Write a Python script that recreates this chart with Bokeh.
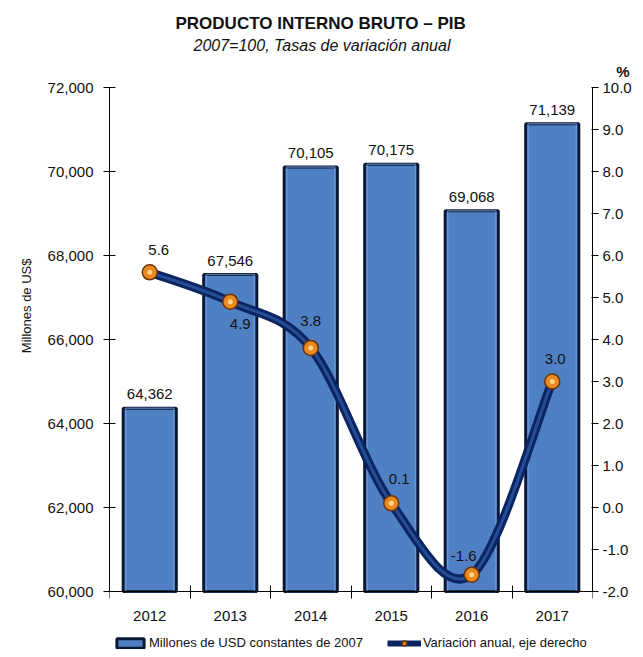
from bokeh.plotting import figure
from bokeh.models import (Range1d, LinearAxis, FixedTicker, NumeralTickFormatter,
                          Title, Legend, LegendItem, ColumnDataSource)
from bokeh.core.properties import value
from bokeh.embed import file_html
from bokeh.resources import INLINE
import numpy as np

# ---- data ----
years = ["2012", "2013", "2014", "2015", "2016", "2017"]
pib_millones = [64362, 67546, 70105, 70175, 69068, 71139]
variacion = [5.6, 4.9, 3.8, 0.1, -1.6, 3.0]
left_ticks = [60000, 62000, 64000, 66000, 68000, 70000, 72000]
right_ticks = [-2, -1, 0, 1, 2, 3, 4, 5, 6, 7, 8, 9, 10]

title_text = "PRODUCTO INTERNO BRUTO \u2013 PIB"
subtitle_text = "2007=100, Tasas de variaci\u00f3n anual"
y_label = "Millones de US$"
bar_legend = "Millones de USD constantes de 2007"
line_legend = "Variaci\u00f3n anual, eje derecho"

# label placement for the line values (screen px offsets)
var_dx = [9, 10, 0, 8, -8, 3]
var_dy = [-22, 22, -27, -24, -19, -23]

FONT = "Liberation Sans"
TXT = "#111111"

# layout geometry: axis span 504 px, extra 66 px below the x axis for the legend
AX_PX, EXTRA_PX = 504, 66
L_LO, L_HI = left_ticks[0], left_ticks[-1]
R_LO, R_HI = right_ticks[0], right_ticks[-1]
l_start = L_LO - (L_HI - L_LO) * EXTRA_PX / AX_PX
r_start = R_LO - (R_HI - R_LO) * EXTRA_PX / AX_PX

x = np.arange(len(years))

p = figure(frame_width=483, frame_height=AX_PX + EXTRA_PX, output_backend="svg",
           toolbar_location=None,
           x_range=Range1d(-0.5, len(years) - 0.5), y_range=Range1d(l_start, L_HI),
           min_border_left=109, min_border_right=51, min_border_top=87, min_border_bottom=0)
p.outline_line_color = None
p.xgrid.visible = False
p.ygrid.visible = False
p.background_fill_color = "white"
p.border_fill_color = "white"

p.extra_y_ranges = {"pct": Range1d(r_start, R_HI)}

# bars
src = ColumnDataSource(dict(x=x, y=pib_millones, lab=[f"{v:,}" for v in pib_millones]))
bars = p.vbar(x="x", top="y", bottom=L_LO, width=0.66, source=src,
              fill_color="#4f80c4", line_color="#0a1838", line_width=3)
p.vbar(x="x", top="y", bottom=L_LO, width=0.60, source=src,
       fill_color=None, line_color="#7aa8e0", line_width=1.5, line_alpha=0.6)
p.text(x="x", y="y", text="lab", source=src, y_offset=-9, text_align="center",
       text_baseline="bottom", text_font=value(FONT), text_font_size="15px",
       text_color=TXT)

# smoothed line (Catmull-Rom -> Bezier control points)
xs = list(x)
ys = list(variacion)
n = len(xs)
x0, y0, x1, y1, cx0, cy0, cx1, cy1 = [], [], [], [], [], [], [], []
for i in range(n - 1):
    pm = i - 1 if i > 0 else i
    pp = i + 2 if i + 2 < n else i + 1
    x0.append(xs[i]); y0.append(ys[i])
    x1.append(xs[i + 1]); y1.append(ys[i + 1])
    cx0.append(xs[i] + (xs[i + 1] - xs[pm]) / 6)
    cy0.append(ys[i] + (ys[i + 1] - ys[pm]) / 6)
    cx1.append(xs[i + 1] - (xs[pp] - xs[i]) / 6)
    cy1.append(ys[i + 1] - (ys[pp] - ys[i]) / 6)
bsrc = ColumnDataSource(dict(x0=x0, y0=y0, x1=x1, y1=y1, cx0=cx0, cy0=cy0, cx1=cx1, cy1=cy1))
p.bezier(x0="x0", y0="y0", x1="x1", y1="y1", cx0="cx0", cy0="cy0", cx1="cx1", cy1="cy1",
         source=bsrc, line_color="#0b2563", line_width=9, y_range_name="pct")
p.bezier(x0="x0", y0="y0", x1="x1", y1="y1", cx0="cx0", cy0="cy0", cx1="cx1", cy1="cy1",
         source=bsrc, line_color="#3a6fc0", line_width=3, line_alpha=0.55, y_range_name="pct")

vsrc = ColumnDataSource(dict(x=x, y=variacion, lab=[f"{v:.1f}" for v in variacion],
                             dx=var_dx, dy=var_dy))
pts = p.scatter(x="x", y="y", source=vsrc, size=15, fill_color="#e88a22",
                line_color="#6b3208", line_width=1.5, y_range_name="pct")
p.scatter(x="x", y="y", source=vsrc, size=5, fill_color="#ffd58a", line_color=None,
          y_range_name="pct")
p.text(x="x", y="y", text="lab", source=vsrc, x_offset="dx", y_offset="dy",
       text_align="center", text_baseline="middle", text_font=value(FONT),
       text_font_size="15px", text_color=TXT, y_range_name="pct")

# legend proxy for the line (a single empty point, draws nothing on the plot)
leg_line = p.line(x=[np.nan], y=[np.nan], line_color="#0b2563", line_width=6,
                  y_range_name="pct")

# axes
xa = p.xaxis[0]
xa.fixed_location = L_LO
xa.ticker = FixedTicker(ticks=list(x), minor_ticks=[i - 0.5 for i in range(len(years) + 1)])
xa.major_label_overrides = {int(i): years[i] for i in x}
xa.major_tick_in = 0
xa.major_tick_out = 0
xa.minor_tick_in = 6
xa.minor_tick_out = 7
xa.minor_tick_line_color = "black"
xa.axis_line_color = "black"
xa.major_label_standoff = 12
xa.major_label_text_font = FONT
xa.major_label_text_font_size = "15px"
xa.major_label_text_color = TXT

ya = p.yaxis[0]
ya.bounds = (L_LO, L_HI)
ya.ticker = FixedTicker(ticks=left_ticks, minor_ticks=[])
ya.formatter = NumeralTickFormatter(format="0,0")
ya.major_tick_in = 6
ya.major_tick_out = 6
ya.major_label_standoff = 10
ya.major_label_text_font = FONT
ya.major_label_text_font_size = "15px"
ya.major_label_text_color = TXT

# y axis title, placed beside the axis within the 72,000..60,000 span
p.add_layout(Title(text=y_label, align="right", offset=171, standoff=22, text_font=FONT,
                   text_font_size="13px", text_font_style="normal", text_color=TXT), "left")

ra = LinearAxis(y_range_name="pct", ticker=FixedTicker(ticks=right_ticks, minor_ticks=[]),
                formatter=NumeralTickFormatter(format="0.0"), bounds=(R_LO, R_HI))
ra.major_tick_in = 1
ra.major_tick_out = 6
ra.major_label_standoff = 4
ra.major_label_text_font = FONT
ra.major_label_text_font_size = "15px"
ra.major_label_text_color = TXT
p.add_layout(ra, "right")

# titles (panel "above"; first added is closest to the frame)
p.add_layout(Title(text="%", align="right", offset=-37, standoff=15, text_font=FONT,
                   text_font_size="15px", text_font_style="bold", text_color=TXT), "above")
p.add_layout(Title(text=subtitle_text, align="left", offset=84, standoff=0, text_font=FONT,
                   text_font_size="16px", text_font_style="italic", text_color=TXT), "above")
p.add_layout(Title(text=title_text, align="left", offset=66, standoff=4, text_font=FONT,
                   text_font_size="17px", text_font_style="bold", text_color=TXT), "above")

legend = Legend(items=[LegendItem(label=bar_legend, renderers=[bars]),
                       LegendItem(label=line_legend, renderers=[leg_line, pts])],
                orientation="horizontal", location=(4, 7), spacing=24,
                glyph_width=34, glyph_height=12, label_standoff=2, label_height=14,
                label_text_font=FONT, label_text_font_size="13px",
                label_text_color=TXT, border_line_alpha=0,
                background_fill_alpha=0, padding=0, margin=0)
p.add_layout(legend, "center")

open("out.html", "w").write(file_html(p, INLINE))
